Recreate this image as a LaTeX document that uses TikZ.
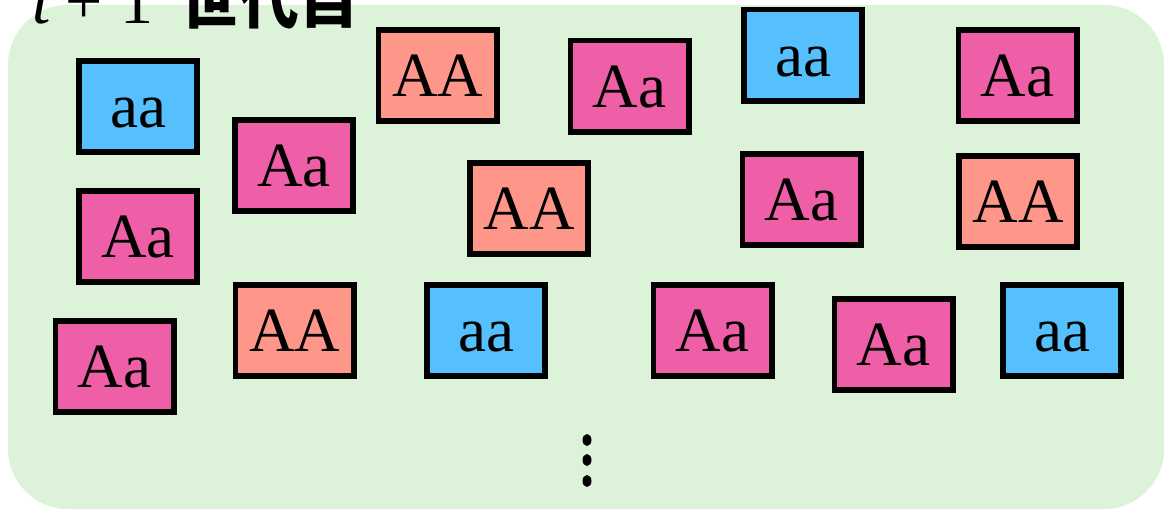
\documentclass[tikz,border=0pt]{standalone}
\usepackage{fontspec}
\setmainfont{Liberation Serif}
\newfontfamily\cjk{Noto Sans CJK JP}

\definecolor{pool}{RGB}{220,242,217}
\definecolor{homoA}{RGB}{255,150,138}
\definecolor{hetero}{RGB}{239,95,167}
\definecolor{homoa}{RGB}{86,192,255}

\tikzset{
  gene/.style={draw, line width=2.8pt, minimum width=59.2pt, minimum height=45.7pt,
    inner sep=0pt, text height=21pt, text depth=0pt, font=\fontsize{31.5}{36}\selectfont},
  AA/.style={gene, fill=homoA},
  Aa/.style={gene, fill=hetero},
  aa/.style={gene, fill=homoa}
}

\begin{document}
\begin{tikzpicture}[x=0.5pt, y=-0.5pt]
	\useasboundingbox (0,0) rectangle (1170,509);
	\fill[pool, rounded corners=30pt] (8,5) rectangle (1164,509);
	\node[anchor=base west, inner sep=0pt, font=\fontsize{33}{36}\selectfont] (title) at (32,23)
		{\textit{t}\hspace{6.5pt}+\hspace{9pt}1\hspace{13pt}{\cjk\bfseries\fontsize{30}{34}\selectfont 世代目}};
	% first row
	\node[aa] (aa1) at (138,106.5) {aa};
	\node[Aa] (Aa1) at (294,165.5) {Aa};
	\node[AA] (AA1) at (437.5,75.5) {AA};
	\node[Aa] (Aa2) at (629.5,86) {Aa};
	\node[aa] (aa2) at (803,55) {aa};
	\node[Aa] (Aa3) at (1017.5,75.5) {Aa};
	% second row
	\node[Aa] (Aa4) at (138,236.5) {Aa};
	\node[AA] (AA2) at (529,208.5) {AA};
	\node[Aa] (Aa5) at (801.5,199.5) {Aa};
	\node[AA] (AA3) at (1018,201.5) {AA};
	% third row
	\node[Aa] (Aa6) at (114.5,366.5) {Aa};
	\node[AA] (AA4) at (294.5,330.5) {AA};
	\node[aa] (aa3) at (486,330.5) {aa};
	\node[Aa] (Aa7) at (712.5,330.5) {Aa};
	\node[Aa] (Aa8) at (893.5,344.5) {Aa};
	\node[aa] (aa4) at (1062,330.5) {aa};
	\foreach \y in {440,460,481}
		\fill (587,\y) ellipse (4.5 and 6);
\end{tikzpicture}
\end{document}
